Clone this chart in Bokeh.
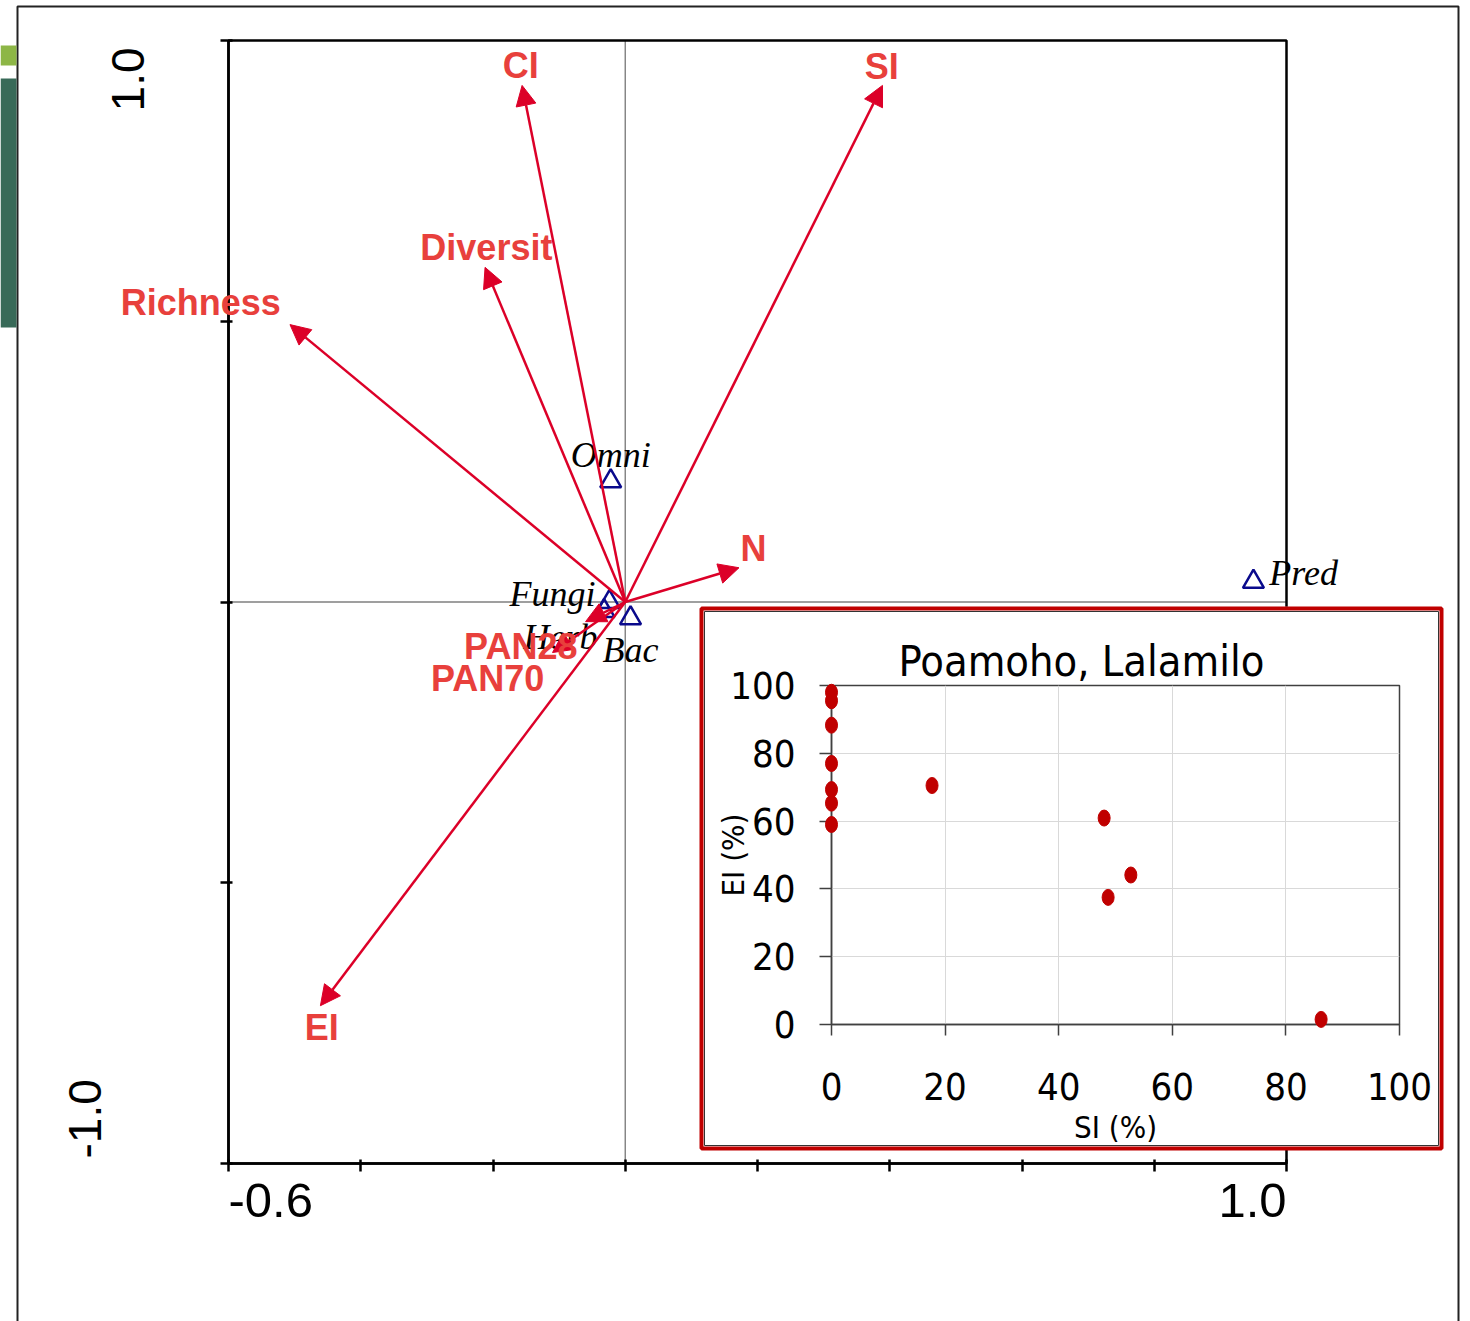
from bokeh.plotting import figure
from bokeh.models import (Arrow, NormalHead, LabelSet, Label, Span, BoxAnnotation,
                          ColumnDataSource, FixedTicker, Column, Range1d)
from bokeh.core.properties import value
from bokeh.embed import file_html
from bokeh.resources import INLINE

# ---------------- data: biplot ----------------
var_names = ["CI", "SI", "Diversit", "Richness", "N", "EI", "PAN28", "PAN70"]
var_x = [-0.156, 0.389, -0.212, -0.507, 0.172, -0.461, -0.060, -0.110]
var_y = [0.920, 0.920, 0.596, 0.494, 0.061, -0.719, -0.035, -0.090]
var_lab_x = [-0.158, 0.388, -0.210, -0.642, 0.194, -0.459, -0.158, -0.208]
var_lab_y = [0.956, 0.954, 0.631, 0.533, 0.095, -0.758, -0.079, -0.136]

sp_names = ["Omni", "Fungi", "Herb", "Bac", "Pred"]
sp_x = [-0.022, -0.024, -0.032, 0.008, 0.950]
sp_y = [0.215, 0.000, -0.016, -0.029, 0.036]
sp_lab_x = [-0.022, -0.110, -0.098, 0.008, 1.026]
sp_lab_y = [0.262, 0.015, -0.063, -0.086, 0.051]

x_ticks = [-0.6, -0.4, -0.2, 0.0, 0.2, 0.4, 0.6, 0.8, 1.0]
y_ticks = [-1.0, -0.5, 0.0, 0.5, 1.0]

# ---------------- data: inset ----------------
inset_title = "Poamoho, Lalamilo"
si_pct = [0, 0, 0, 0, 0, 0, 0, 17.7, 48.0, 52.7, 48.7, 86.2]
ei_pct = [98.0, 95.5, 88.3, 77.0, 69.3, 65.3, 59.0, 70.5, 60.9, 44.1, 37.5, 1.5]
inset_ticks = [0, 20, 40, 60, 80, 100]

ARROW_C = "#dc0028"
LABEL_C = "#e8403c"
NARROW = "DejaVu Sans Condensed"

# ---------------- page geometry (pixels) ----------------
W, H = 1470, 1321
FX0, FX1, FY0, FY1 = 228, 1286, 40, 1163          # main frame
BX0, BX1, BY0, BY1 = 699, 1443, 606, 1150         # inset box
IX0, IX1, IY0, IY1 = 831, 1399, 685, 1024         # inset frame

X0, X1 = x_ticks[0], x_ticks[-1]
Y0, Y1 = y_ticks[0], y_ticks[-1]
sxu = (FX1 - FX0) / (X1 - X0)
syu = (FY1 - FY0) / (Y1 - Y0)
IXA, IXB = inset_ticks[0], inset_ticks[-1]
isx = (IX1 - IX0) / (IXB - IXA)
isy = (IY1 - IY0) / (IXB - IXA)

# ---------------- A: main axes ----------------
a = figure(frame_width=FX1 - FX0, frame_height=FY1 - FY0,
           min_border_left=FX0, min_border_right=W - FX1,
           min_border_top=FY0, min_border_bottom=H - FY1,
           x_range=(X0, X1), y_range=(Y0, Y1), frame_align=False,
           output_backend="svg", toolbar_location=None)
a.grid.visible = False
a.outline_line_color = "black"
a.outline_line_width = 2.5
a.outline_line_alpha = 1
a.background_fill_color = "white"
a.border_fill_color = "white"
for ax, ticks in ((a.xaxis[0], x_ticks), (a.yaxis[0], y_ticks)):
    ax.ticker = FixedTicker(ticks=ticks)
    ax.major_label_overrides = {t: "" for t in ticks}
    ax.axis_line_width = 2.5
    ax.major_tick_line_width = 2.5
    ax.major_tick_in = 4
    ax.major_tick_out = 8
    ax.minor_tick_line_color = None
    ax.axis_line_color = "black"
    ax.major_tick_line_color = "black"
a.add_layout(Span(location=0, dimension="height", line_color="black",
                  line_width=1.4, line_dash="1 1"))
a.add_layout(Span(location=0, dimension="width", line_color="black",
                  line_width=1.4, line_dash="1 1"))

# ---------------- B: inset axes ----------------
b = figure(frame_width=IX1 - IX0, frame_height=IY1 - IY0,
           min_border_left=IX0 - BX0, min_border_right=BX1 - IX1,
           min_border_top=IY0 - BY0, min_border_bottom=BY1 - IY1,
           x_range=(IXA, IXB), y_range=(IXA, IXB), frame_align=False,
           title=inset_title, output_backend="svg", toolbar_location=None)
b.title.align = "left"
b.title.offset = 67
b.title.standoff = 0
b.title.text_font = NARROW
b.title.text_font_size = "43px"
b.title.text_font_style = "normal"
b.title.text_color = "black"
b.outline_line_color = "#404040"
b.outline_line_width = 1.5
b.border_fill_color = "white"
b.background_fill_color = "white"
b.xaxis.ticker = FixedTicker(ticks=inset_ticks)
b.yaxis.ticker = FixedTicker(ticks=inset_ticks)
for ax in (b.xaxis[0], b.yaxis[0]):
    ax.axis_line_color = "#404040"
    ax.axis_line_width = 1.5
    ax.major_tick_line_color = "#404040"
    ax.major_tick_line_width = 1.5
    ax.major_tick_in = 0
    ax.minor_tick_line_color = None
    ax.major_label_text_font = NARROW
    ax.major_label_text_font_size = "38px"
    ax.major_label_text_color = "black"
    ax.axis_label_text_font = NARROW
    ax.axis_label_text_font_size = "31px"
    ax.axis_label_text_font_style = "normal"
    ax.axis_label_text_color = "black"
b.xaxis.major_tick_out = 11
b.yaxis.major_tick_out = 12
b.xaxis.major_label_standoff = 37
b.yaxis.major_label_standoff = 24
b.xaxis.axis_label = "SI (%)"
b.yaxis.axis_label = "EI (%)"
b.xaxis.axis_label_standoff = 6
b.yaxis.axis_label_standoff = -24
b.grid.grid_line_color = "#d9d9d9"
b.grid.grid_line_width = 1
b.margin = (BY0 - H, 0, 0, BX0)

# ---------------- C: content overlay (frame = whole page) ----------------
c = figure(width=W, height=H, min_border=0, frame_align=False,
           x_axis_location=None, y_axis_location=None,
           x_range=Range1d(X0 - FX0 / sxu, X1 + (W - FX1) / sxu),
           y_range=Range1d(Y0 - (H - FY1) / syu, Y1 + FY0 / syu),
           output_backend="svg", toolbar_location=None)
c.extra_x_ranges = {"inset": Range1d(IXA - IX0 / isx, IXB + (W - IX1) / isx)}
c.extra_y_ranges = {"inset": Range1d(IXA - (H - IY1) / isy, IXB + IY0 / isy)}
c.grid.visible = False
c.outline_line_color = None
c.background_fill_color = None
c.border_fill_color = None
c.margin = (-BY1, 0, 0, 0)

def canvas_box(l, r, t, bt, **kw):
    return BoxAnnotation(left=l, right=r, top=t, bottom=bt,
                         left_units="canvas", right_units="canvas",
                         top_units="canvas", bottom_units="canvas", **kw)

# slide frame and decorations
c.add_layout(canvas_box(17, 1458, 6, 1340, fill_color=None,
                        line_color="#222222", line_alpha=1, line_width=2))
c.add_layout(canvas_box(0, 16, 45, 65, fill_color="#8db646", fill_alpha=1, line_color=None))
c.add_layout(canvas_box(0, 16, 78, 327, fill_color="#386a58", fill_alpha=1, line_color=None))
# inset border
c.add_layout(canvas_box(BX0 + 2, BX1 - 2, BY0 + 2, BY1 - 2, fill_color=None,
                        line_color="#c00000", line_alpha=1, line_width=4))
c.add_layout(canvas_box(BX0 + 5, BX1 - 5, BY0 + 5, BY1 - 5, fill_color=None,
                        line_color="#333333", line_alpha=1, line_width=1))

# species points
sp_src = ColumnDataSource(dict(x=sp_x, y=sp_y, lx=sp_lab_x, ly=sp_lab_y, name=sp_names))
c.scatter("x", "y", source=sp_src, marker="triangle", size=21,
          fill_color=None, line_color="#0a0a8c", line_width=2.5)
c.add_layout(LabelSet(x="lx", y="ly", text="name", source=sp_src,
                      text_font=value("Liberation Serif"), text_font_style="italic",
                      text_font_size="36px", text_color="black",
                      text_align="center", text_baseline="middle"))

# variable arrows
var_src = ColumnDataSource(dict(x0=[0.0] * len(var_x), y0=[0.0] * len(var_y),
                                x1=var_x, y1=var_y, lx=var_lab_x, ly=var_lab_y,
                                name=var_names))
c.add_layout(Arrow(source=var_src, x_start="x0", y_start="y0", x_end="x1", y_end="y1",
                   line_color=ARROW_C, line_width=2.5,
                   end=NormalHead(size=20, fill_color=ARROW_C, line_color=ARROW_C,
                                  line_width=1)))
c.add_layout(LabelSet(x="lx", y="ly", text="name", source=var_src,
                      text_font=value("Liberation Sans"), text_font_style="bold",
                      text_font_size="36px", text_color=LABEL_C,
                      text_align="center", text_baseline="middle"))

# axis end labels
lab_kw = dict(text_font="Liberation Sans", text_color="black", text_baseline="alphabetic")
c.add_layout(Label(x=X0, y=Y0, text="-0.6", text_align="left", y_offset=-37,
                   text_font_size="49px", **lab_kw))
c.add_layout(Label(x=X1, y=Y0, text="1.0", text_align="right", y_offset=-37,
                   text_font_size="49px", **lab_kw))
c.add_layout(Label(x=X0, y=Y1, text="1.0", text_align="right", angle=1.5708,
                   x_offset=-101, y_offset=-7, text_font_size="46px", **lab_kw))
c.add_layout(Label(x=X0, y=Y0, text="-1.0", text_align="left", angle=1.5708,
                   x_offset=-143, y_offset=5, text_font_size="46px", **lab_kw))

# inset points
c.ellipse(x=si_pct, y=ei_pct, width=12, height=16,
          width_units="screen", height_units="screen",
          fill_color="#c00000", line_color="#c00000",
          x_range_name="inset", y_range_name="inset")

root = Column(children=[a, b, c])
open("out.html", "w").write(file_html(root, INLINE))
